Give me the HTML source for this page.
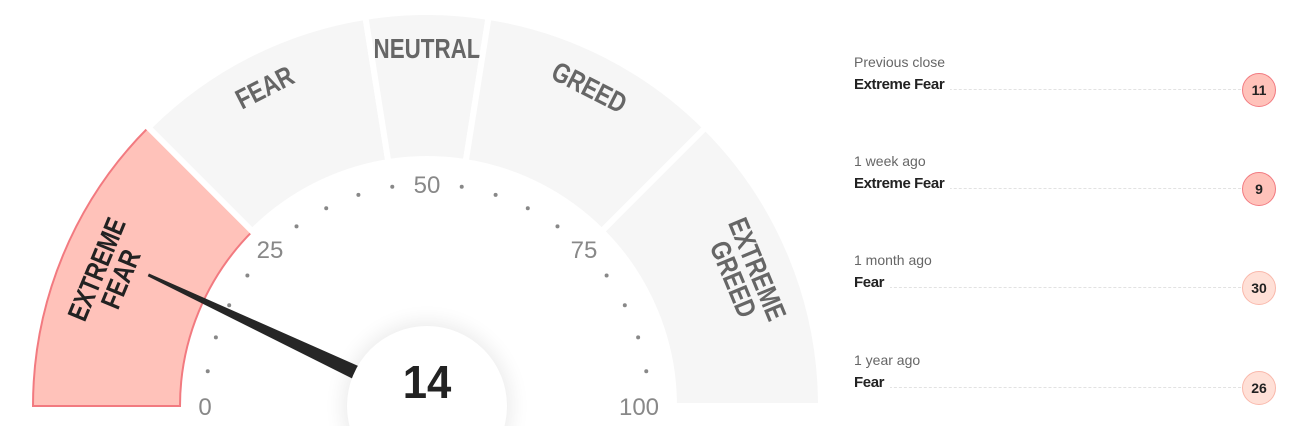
<!DOCTYPE html>
<html><head><meta charset="utf-8">
<style>
html,body{margin:0;width:1296px;height:426px;background:#fff;overflow:hidden;font-family:"Liberation Sans",sans-serif;}
#gauge{position:absolute;left:0;top:0}
.item{position:absolute;left:854px;width:422px;}
.when{font-size:14px;color:#666;line-height:16px}
.row{position:relative;height:22px;margin-top:6px}
.lab{position:absolute;left:0;top:0;font-size:15px;font-weight:bold;color:#222;background:#fff;padding-right:6px;letter-spacing:-0.4px}
.dash{position:absolute;left:0;right:20px;top:13px;border-top:1px dashed #e2e2e2}
.circ{position:absolute;right:0;top:-3px;width:32px;height:32px;border-radius:50%;font-size:14px;font-weight:bold;color:#222;text-align:center;line-height:32px}
.ef{background:#ffc2ba;border:1px solid #f27a80}
.f{background:#ffe0d7;border:1px solid #f9b8ab}
</style></head><body>
<svg id="gauge" width="840" height="426">
<defs><filter id="sh" x="-50%" y="-50%" width="200%" height="200%"><feGaussianBlur stdDeviation="10"/></filter></defs>
<g id="segs"></g><g id="ticks"></g><g id="needle"></g>
</svg>
<div class="item" style="top:54px"><div class="when">Previous close</div><div class="row"><div class="dash"></div><div class="lab">Extreme Fear</div><div class="circ ef">11</div></div></div>
<div class="item" style="top:153px"><div class="when">1 week ago</div><div class="row"><div class="dash"></div><div class="lab">Extreme Fear</div><div class="circ ef">9</div></div></div>
<div class="item" style="top:252px"><div class="when">1 month ago</div><div class="row"><div class="dash"></div><div class="lab">Fear</div><div class="circ f">30</div></div></div>
<div class="item" style="top:352px"><div class="when">1 year ago</div><div class="row"><div class="dash"></div><div class="lab">Fear</div><div class="circ f">26</div></div></div>
<script>
const bounds=[0,25,45,55,75,100];
const segNames=[["EXTREME","FEAR"],["FEAR"],["NEUTRAL"],["GREED"],["EXTREME","GREED"]];
const tickLabels=[0,25,50,75,100];
const value=14;
const NS="http://www.w3.org/2000/svg";
const cx=427,cy=406,R=394,r=247;
function ang(v){return Math.PI*(1-v/100);}
function pt(v,rad){const a=ang(v);return [cx+rad*Math.cos(a),cy-rad*Math.sin(a)];}
function mk(t,at,p){const e=document.createElementNS(NS,t);for(const k in at)e.setAttribute(k,at[k]);p.appendChild(e);return e;}
const segs=document.getElementById('segs');
for(let i=0;i<5;i++){
 const a0=bounds[i],a1=bounds[i+1];
 const p1=pt(a0,R),p2=pt(a1,R),p3=pt(a1,r),p4=pt(a0,r);
 const active=value>=a0&&value<a1;
 const d=`M${p1} A${R} ${R} 0 0 1 ${p2} L${p3} A${r} ${r} 0 0 0 ${p4} Z`;
 const s=mk('path',{d:d,fill:active?'#ffc2ba':'#f6f6f6',stroke:active?'#f27a80':'#fff','stroke-width':active?2:6},segs);
 
 
 const mid=(a0+a1)/2,lines=segNames[i];
 const rr=lines.length>1?345:358;
 const [tx,ty]=pt(mid,rr);
 const rot=(mid/100)*180-90;
 const t=mk('text',{x:0,y:0,transform:`translate(${tx},${ty}) rotate(${rot}) scale(0.8,1)`,'text-anchor':'middle','font-weight':'bold','font-size':28,fill:active?'#222':'#666'},segs);
 
 
 lines.forEach((l,j)=>{const ts=mk('tspan',{x:0,y:(j-(lines.length-1)/2)*26+10},t);ts.textContent=l;});
}
const ticks=document.getElementById('ticks');
for(let v=0;v<=100;v+=5){
 if(tickLabels.includes(v)){
  const rr=v==100?212:222;
  const [x,y]=pt(v,rr);
  const t=mk('text',{x:x,y:y+9,'text-anchor':'middle','font-size':24,fill:'#888'},ticks);
  t.textContent=v;
  
  
 }else{
  const [x,y]=pt(v,222);
  const c=mk('circle',{cx:x,cy:y,r:2,fill:'#888'},ticks);
  
  
 }
}
const nd=document.getElementById('needle');
mk('circle',{cx:cx,cy:cy,r:84,fill:'#000',opacity:0.08,filter:'url(#sh)'},nd);
const a=ang(value),ux=Math.cos(a),uy=-Math.sin(a),px=-uy,py=ux;
const tip=[cx+308*ux,cy+308*uy],b=[cx+78*ux,cy+78*uy];
const n=mk('polygon',{points:`${tip[0]-px*1.5},${tip[1]-py*1.5} ${tip[0]+px*1.5},${tip[1]+py*1.5} ${b[0]+px*7},${b[1]+py*7} ${b[0]-px*7},${b[1]-py*7}`,fill:'#262626'},nd);


mk('circle',{cx:cx,cy:cy,r:80,fill:'#fff'},nd);
const vt=mk('text',{x:0,y:0,transform:`translate(${cx},${cy-8}) scale(0.95,1)`,'text-anchor':'middle','font-size':46,'font-weight':'bold',fill:'#222'},nd);
vt.textContent=value;


</script>
</body></html>
